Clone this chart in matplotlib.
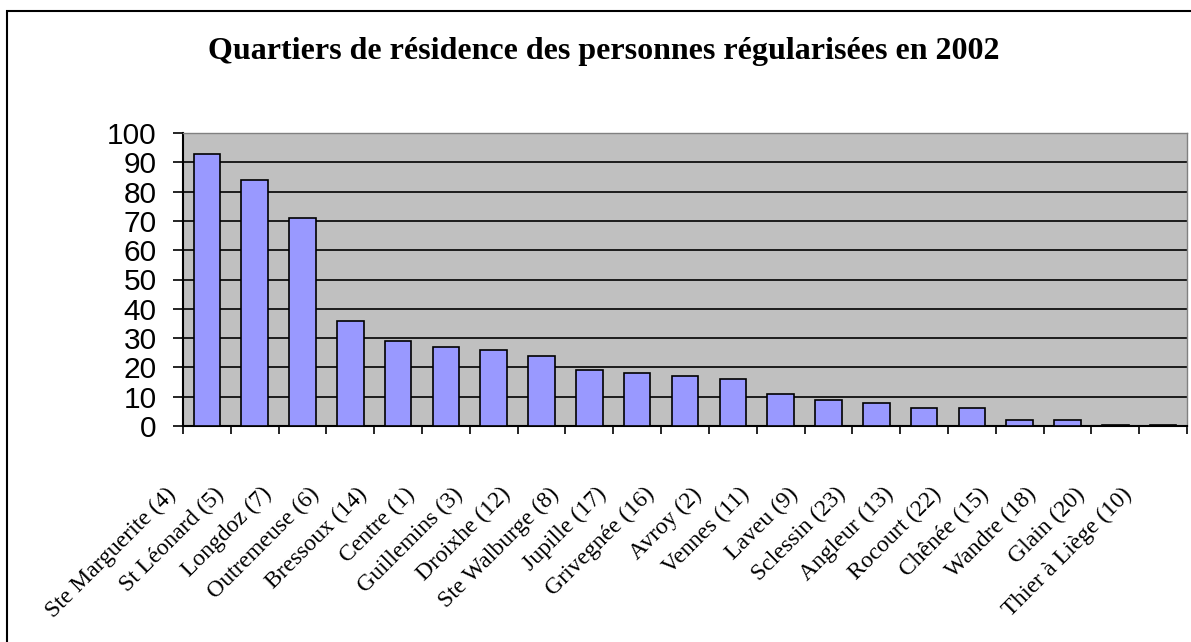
import matplotlib
matplotlib.use("Agg")
import matplotlib.pyplot as plt
from matplotlib.transforms import ScaledTranslation
from matplotlib.patches import Rectangle

# data
quartiers = ["Ste Marguerite (4)", "St Léonard (5)", "Longdoz (7)", "Outremeuse (6)",
             "Bressoux (14)", "Centre (1)", "Guillemins (3)", "Droixhe (12)",
             "Ste Walburge (8)", "Jupille (17)", "Grivegnée (16)", "Avroy (2)",
             "Vennes (11)", "Laveu (9)", "Sclessin (23)", "Angleur (13)",
             "Rocourt (22)", "Chênée (15)", "Wandre (18)", "Glain (20)",
             "Thier à Liège (10)"]
personnes = [93, 84, 71, 36, 29, 27, 26, 24, 19, 18, 17, 16, 11, 9, 8, 6, 6, 2, 2, 0.5, 0.5]
yticks = list(range(0, 101, 10))

BAR = "#9999ff"; PLOT_BG = "#c0c0c0"

fig = plt.figure(figsize=(11.91, 6.42), dpi=100)
fig.patch.set_facecolor("white")
ax = fig.add_axes([183/1191, 1-426/642, (1187-183)/1191, (426-133)/642])
ax.set_facecolor(PLOT_BG)

x = list(range(len(quartiers)))
ax.bar(x, personnes, width=0.556, color=BAR, edgecolor="black", linewidth=1.2, zorder=3)

ax.set_xlim(-0.5, len(quartiers) - 0.5)
ax.set_ylim(0, 100)
ax.set_yticks(yticks)
ax.set_yticklabels([str(v) for v in yticks], fontfamily="Liberation Sans", fontsize=21.5)
ax.yaxis.grid(True, color="black", linewidth=1.2, zorder=1)
ax.set_axisbelow(True)
ax.tick_params(axis="y", direction="out", length=7, width=1.2, pad=12)

ax.set_xticks(x)
ax.set_xticks([i - 0.5 for i in range(len(quartiers) + 1)], minor=True)
ax.tick_params(axis="x", which="major", length=0, pad=0)
ax.tick_params(axis="x", which="minor", direction="out", length=5.5, width=1.2)
ax.set_xticklabels(quartiers, fontfamily="Liberation Serif", fontsize=17,
                   rotation=45, ha="right", va="baseline", rotation_mode="anchor")
shift = ScaledTranslation(-0.30, -0.69, fig.dpi_scale_trans)
for lab in ax.get_xticklabels():
    lab.set_transform(lab.get_transform() + shift)

for side in ["left", "bottom"]:
    ax.spines[side].set_color("black")
    ax.spines[side].set_linewidth(1.5)
for side in ["top", "right"]:
    ax.spines[side].set_color("#808080")
    ax.spines[side].set_linewidth(1.0)

fig.text(604/1191, 1-52/642, "Quartiers de résidence des personnes régularisées en 2002",
         ha="center", va="center", fontfamily="Liberation Serif", fontweight="bold",
         fontsize=23)

# chart frame
fig.patches.append(Rectangle((7/1191, -0.1), 1.2, 1-11/642+0.1, transform=fig.transFigure,
                             fill=False, edgecolor="black", linewidth=1.5))

fig.savefig("out.png", dpi=100, facecolor="white")
